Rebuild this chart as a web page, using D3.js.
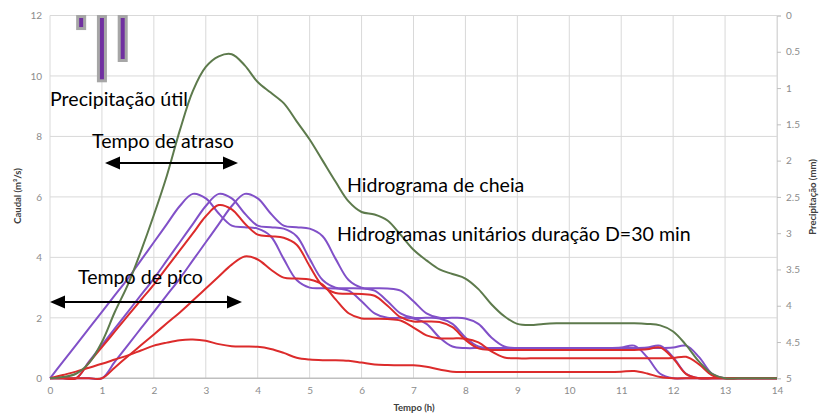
<!DOCTYPE html>
<html><head><meta charset="utf-8">
<script src="https://cdn.jsdelivr.net/npm/d3@7"></script>
<style>body{margin:0;background:#fff}svg{display:block}</style>
</head><body><svg id="c" width="821" height="416"></svg>
<script>
// time grid (h), 0.25 h step
const tempo = d3.range(0, 14.001, 0.25);
const xTicks = d3.range(0, 15, 1);
const yTicksL = [0, 2, 4, 6, 8, 10, 12];
const yTicksR = [0, 0.5, 1, 1.5, 2, 2.5, 3, 3.5, 4, 4.5, 5];

// precipitação útil (mm), centre time of bar (h)
const precipT = [0.6, 1.0, 1.4];
const precipV = [0.18, 0.9, 0.62];

// hidrogramas unitários (purple)
const hu1 = [0,0.55,1.1,1.65,2.2,2.75,3.3,3.9,4.5,5.1,
 5.7,6.1,5.95,5.45,5.05,5.0,4.95,4.7,3.95,3.25,
 3.0,2.98,2.97,2.9,2.55,2.15,2.0,2.0,1.98,1.8,
 1.35,1.05,1.0,1.0,1.0,1.0,1.0,1.0,1.0,1.0,
 1.0,1.0,1.0,1.0,1.02,1.08,0.7,0.15,0,0,
 0,0,0,0,0,0,0];
const hu2 = [0,0,0,0.55,1.1,1.65,2.2,2.75,3.3,3.9,
 4.5,5.1,5.7,6.1,5.95,5.45,5.05,5.0,4.95,4.7,
 3.95,3.25,3.0,2.98,2.97,2.9,2.55,2.15,2.0,2.0,
 1.98,1.8,1.35,1.05,1.0,1.0,1.0,1.0,1.0,1.0,
 1.0,1.0,1.0,1.0,1.0,1.0,1.02,1.08,0.7,0.15,
 0,0,0,0,0,0,0];
const hu3 = [0,0,0,0,0,0.55,1.1,1.65,2.2,2.75,
 3.3,3.9,4.5,5.1,5.7,6.1,5.95,5.45,5.05,5.0,
 4.95,4.7,3.95,3.25,3.0,2.98,2.97,2.9,2.55,2.15,
 2.0,2.0,1.98,1.8,1.35,1.05,1.0,1.0,1.0,1.0,
 1.0,1.0,1.0,1.0,1.0,1.0,1.0,1.0,1.02,1.08,
 0.7,0.15,0,0,0,0,0];

// hidrogramas parciais (red)
const hp1 = [0,0.11,0.22,0.35,0.48,0.62,0.76,0.92,1.08,1.18,
 1.26,1.28,1.24,1.13,1.06,1.05,1.04,0.97,0.84,0.68,
 0.62,0.6,0.6,0.58,0.52,0.46,0.44,0.43,0.43,0.38,
 0.29,0.22,0.21,0.21,0.21,0.21,0.21,0.21,0.21,0.21,
 0.21,0.21,0.21,0.21,0.22,0.24,0.16,0.04,0,0,
 0,0,0,0,0,0,0];
const hp2 = [0,0,0,0.52,1.03,1.55,2.07,2.59,3.1,3.67,
 4.23,4.79,5.36,5.73,5.59,5.12,4.75,4.7,4.65,4.42,
 3.71,3.06,2.82,2.8,2.79,2.73,2.4,2.02,1.88,1.88,
 1.86,1.69,1.27,0.99,0.94,0.94,0.94,0.94,0.94,0.94,
 0.94,0.94,0.94,0.94,0.94,0.94,0.96,1.02,0.66,0.14,
 0,0,0,0,0,0,0];
const hp3 = [0,0,0,0,0,0.36,0.73,1.09,1.45,1.82,
 2.18,2.57,2.97,3.37,3.76,4.03,3.93,3.6,3.33,3.3,
 3.27,3.1,2.61,2.15,1.98,1.97,1.96,1.91,1.68,1.42,
 1.32,1.32,1.31,1.19,0.89,0.69,0.66,0.66,0.66,0.66,
 0.66,0.66,0.66,0.66,0.66,0.66,0.66,0.66,0.67,0.71,
 0.46,0.1,0,0,0,0,0];

// hidrograma de cheia (green)
const cheia = [0,0.04,0.15,0.5,1.2,2.2,3.1,4.2,5.4,6.7,
 8.2,9.5,10.3,10.65,10.72,10.35,9.8,9.45,9.1,8.5,
 7.9,7.2,6.5,5.85,5.5,5.42,5.22,4.75,4.25,3.9,
 3.6,3.45,3.3,2.95,2.45,2.05,1.8,1.76,1.8,1.82,
 1.82,1.82,1.82,1.82,1.82,1.82,1.8,1.75,1.55,1.1,
 0.55,0.15,0,0,0,0,0];

const svg = d3.select("#c");
const x = d3.scaleLinear().domain([0, 14]).range([50, 777]);
const yL = d3.scaleLinear().domain([0, 12]).range([378.3, 15.5]);
const yR = d3.scaleLinear().domain([0, 5]).range([15.5, 378.3]);
const tickFont = "Lato, 'Open Sans', sans-serif";

// grid
const g = svg.append("g");
g.selectAll("line.v").data(xTicks).join("line")
  .attr("x1", d => x(d)).attr("x2", d => x(d))
  .attr("y1", yL(12)).attr("y2", yL(0))
  .attr("stroke", "#d9d9d9").attr("stroke-width", 1);
g.selectAll("line.h").data(yTicksL).join("line")
  .attr("x1", x(0)).attr("x2", x(14))
  .attr("y1", d => yL(d)).attr("y2", d => yL(d))
  .attr("stroke", d => d === 0 ? "#bfbfbf" : "#d9d9d9").attr("stroke-width", d => d === 0 ? 1.5 : 1);

// left axis labels
svg.append("g").attr("transform", `translate(${x(0)},0)`)
  .call(d3.axisLeft(yL).tickValues(yTicksL).tickSize(0).tickPadding(8))
  .call(a => a.select(".domain").remove())
  .call(a => a.selectAll("text").attr("fill", "#8c8c8c").style("font", `10px ${tickFont}`));
// bottom axis
svg.append("g").attr("transform", `translate(0,${yL(0)})`)
  .call(d3.axisBottom(x).tickValues(xTicks).tickSize(0).tickPadding(9))
  .call(a => a.select(".domain").remove())
  .call(a => a.selectAll("text").attr("fill", "#8c8c8c").style("font", `10px ${tickFont}`));
// right axis
svg.append("g").attr("transform", `translate(${x(14)},0)`)
  .call(d3.axisRight(yR).tickValues(yTicksR).tickSize(4).tickPadding(5).tickFormat(d => String(d)))
  .call(a => a.select(".domain").attr("stroke", "#d9d9d9"))
  .call(a => a.selectAll(".tick line").attr("stroke", "#bfbfbf"))
  .call(a => a.selectAll("text").attr("fill", "#8c8c8c").style("font", `10px ${tickFont}`));

// axis titles
svg.append("text").attr("transform", `translate(21,196) rotate(-90)`)
  .attr("text-anchor", "middle").attr("fill", "#404040")
  .style("font", `bold 9.5px ${tickFont}`).text("Caudal (m³/s)");
svg.append("text").attr("x", 414).attr("y", 411)
  .attr("text-anchor", "middle").attr("fill", "#404040")
  .style("font", `bold 9.5px ${tickFont}`).text("Tempo (h)");
svg.append("text").attr("transform", `translate(816,197) rotate(-90)`)
  .attr("text-anchor", "middle").attr("fill", "#404040")
  .style("font", `bold 9.5px ${tickFont}`).text("Precipitação (mm)");

// precipitation bars
svg.append("g").selectAll("rect").data(precipT).join("rect")
  .attr("x", d => x(d) - 3.5).attr("width", 7)
  .attr("y", yR(0) + 1).attr("height", (d, i) => yR(precipV[i]) - yR(0) - 1)
  .attr("fill", "#7030a0").attr("stroke", "#a6a6a6").attr("stroke-width", 3);

// curves
const line = (arr, yS) => d3.line().x((d, i) => x(tempo[i])).y(d => yS(d)).curve(d3.curveCatmullRom.alpha(0.5))(arr);
const series = [
  {v: hu1, c: "#8150c8"}, {v: hu2, c: "#8150c8"}, {v: hu3, c: "#8150c8"},
  {v: hp1, c: "#dc2b2b"}, {v: hp2, c: "#dc2b2b"}, {v: hp3, c: "#dc2b2b"},
  {v: cheia, c: "#5d7a4c"}
];
svg.append("g").selectAll("path").data(series).join("path")
  .attr("d", d => line(d.v, yL)).attr("fill", "none")
  .attr("stroke", d => d.c).attr("stroke-width", 2);

// annotations
const annFont = "Lato, 'Open Sans', sans-serif";
const ann = [
  {t: "Precipitação útil", x: 50, y: 106},
  {t: "Tempo de atraso", x: 92, y: 148},
  {t: "Tempo de pico", x: 78, y: 284},
  {t: "Hidrograma de cheia", x: 347, y: 192},
  {t: "Hidrogramas unitários duração D=30 min", x: 337, y: 241}
];
const at = svg.append("g").selectAll("text").data(ann).join("text")
  .attr("x", d => d.x).attr("y", d => d.y).attr("fill", "#000")
  .style("font-family", annFont).style("font-size", "20px").text(d => d.t);
// fit font size so the long label spans the same width as in the picture
const longest = at.filter(d => d.t.startsWith("Hidrogramas")).node().getComputedTextLength();
const fs = 20 * 354 / longest;
at.style("font-size", fs + "px");

// arrows
function arrow(x1, x2, y) {
  const a = svg.append("g");
  const hl = 15, hh = 6.5;
  a.append("line").attr("x1", x1 + hl - 1).attr("x2", x2 - hl + 1).attr("y1", y).attr("y2", y)
    .attr("stroke", "#000").attr("stroke-width", 2.2);
  a.append("path").attr("d", `M${x1},${y}L${x1 + hl},${y - hh}L${x1 + hl},${y + hh}Z`).attr("fill", "#000");
  a.append("path").attr("d", `M${x2},${y}L${x2 - hl},${y - hh}L${x2 - hl},${y + hh}Z`).attr("fill", "#000");
}
arrow(105, 238, 163);
arrow(50, 242, 302);
</script></body></html>
